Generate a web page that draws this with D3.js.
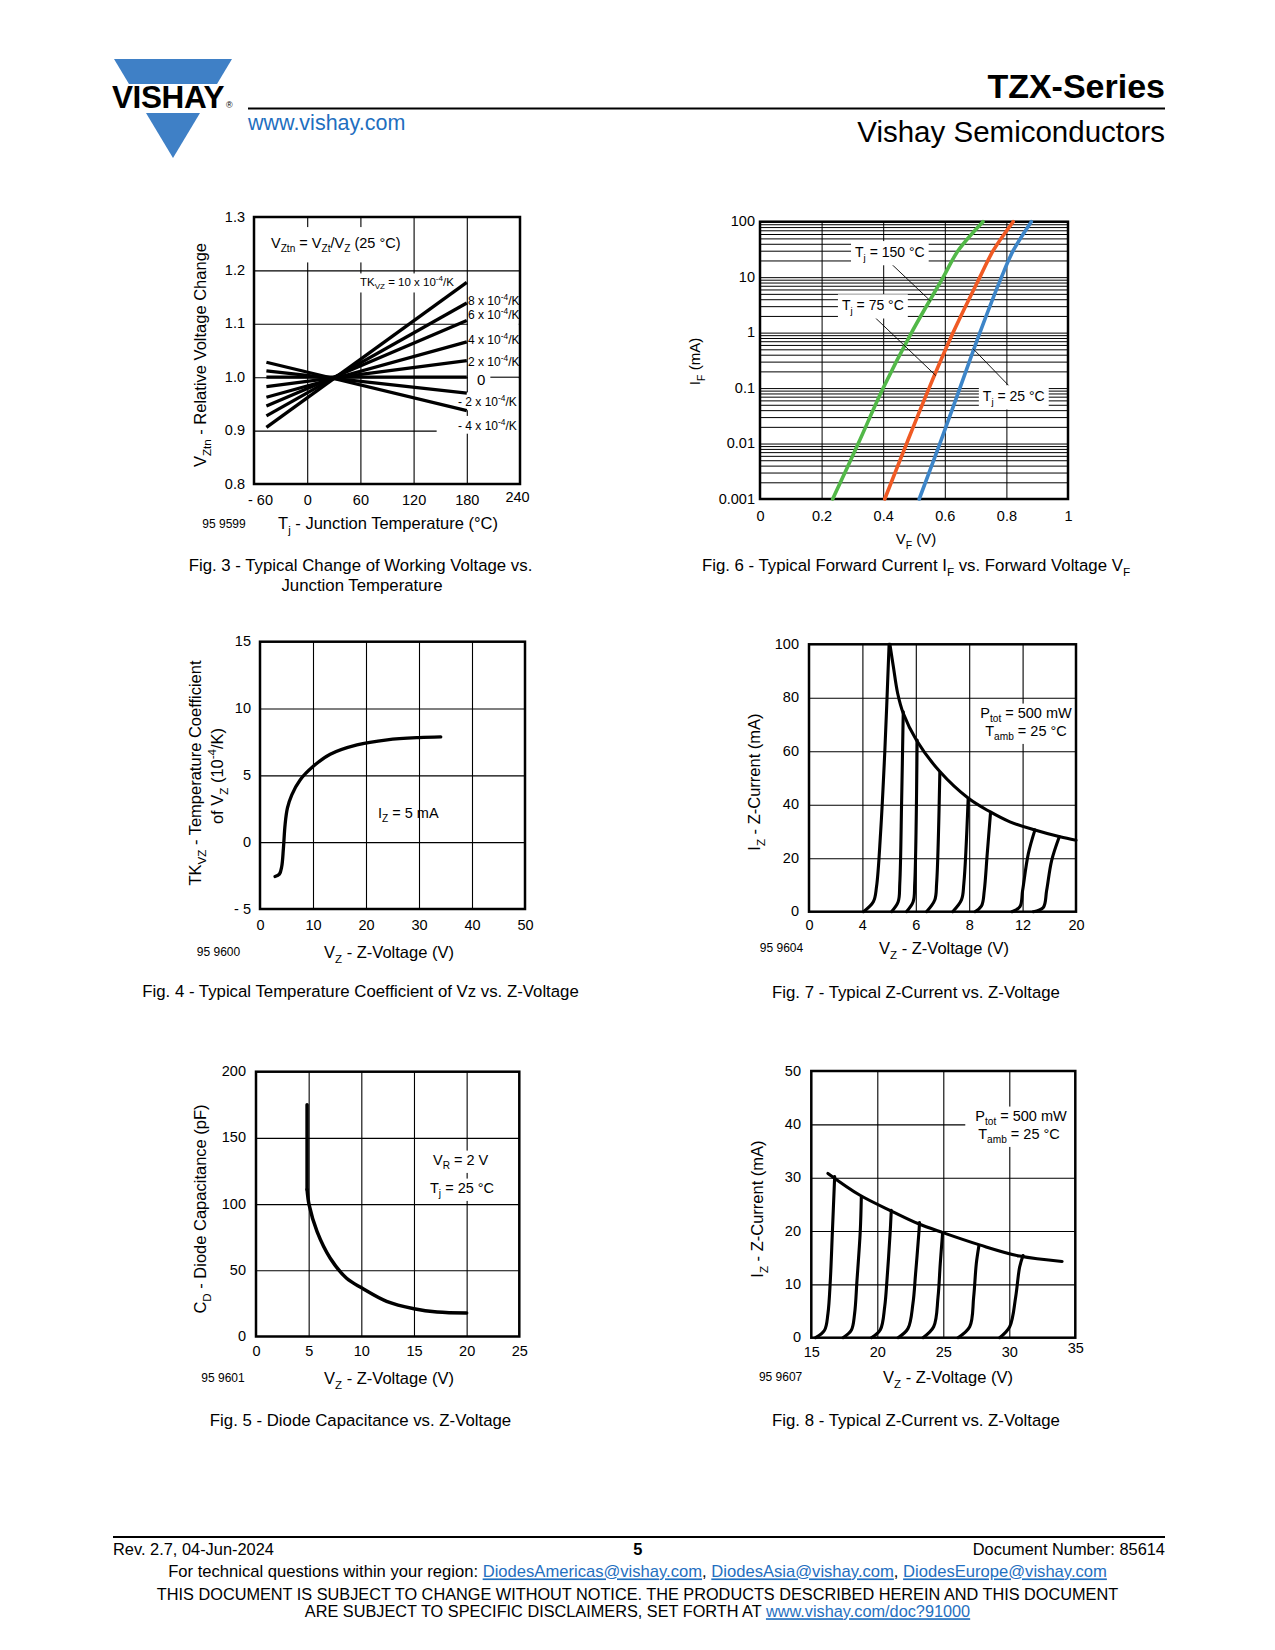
<!DOCTYPE html>
<html><head><meta charset="utf-8"><title>TZX-Series page 5</title>
<script src="https://cdn.jsdelivr.net/npm/d3@7/dist/d3.min.js"></script>
<style>
html,body{margin:0;padding:0;background:#fff}
svg{display:block}
svg text{font-family:"Liberation Sans",Arial,Helvetica,sans-serif}
</style></head><body>
<svg id="page" width="1275" height="1650" viewBox="0 0 1275 1650"></svg>
<script>
// ================= DATA =================
// Fig. 3 - relative voltage change vs junction temperature
const fig3TempTicks = [-60, 0, 60, 120, 180, 240];
const fig3VoltTicks = [0.8, 0.9, 1.0, 1.1, 1.2, 1.3];
const fig3Coeff = [10, 8, 6, 4, 2, 0, -2, -4];           // TKVZ in 10^-4/K
const fig3TempRange = [-46, 180];                          // start / end temperature of each line
const fig3StartV = [0.906, 0.9275, 0.946, 0.9625, 0.9825, 1.0, 1.012, 1.028];
const fig3EndV   = [1.1775, 1.139, 1.106, 1.066, 1.031, 1.0, 0.97, 0.9375];

// Fig. 6 - forward current vs forward voltage
const fig6VfTicks = [0, 0.2, 0.4, 0.6, 0.8, 1];
const fig6IfTicks = [0.001, 0.01, 0.1, 1, 10, 100];
const fig6Current = [0.001, 0.01, 0.1, 1, 10, 30, 100];
const fig6Vf150 = [0.236, 0.319, 0.400, 0.492, 0.595, 0.643, 0.724];
const fig6Vf75  = [0.405, 0.476, 0.549, 0.627, 0.714, 0.757, 0.822];
const fig6Vf25  = [0.517, 0.584, 0.649, 0.714, 0.784, 0.822, 0.881];
const fig6Temps = [150, 75, 25];
const fig6LabelV = [0.4216, 0.3665, 0.824];
const fig6LabelI = [28.8, 3.16, 0.0724];
const fig6LeaderFromV = [0.419, 0.374, 0.692];
const fig6LeaderFromI = [19, 1.86, 0.51];
const fig6LeaderToV = [0.554, 0.571, 0.811];
const fig6LeaderToI = [3.7, 0.168, 0.106];

// Fig. 4 - temperature coefficient vs Z-voltage
const fig4VzTicks = [0, 10, 20, 30, 40, 50];
const fig4TkTicks = [-5, 0, 5, 10, 15];
const fig4Vz = [2.84, 3.66, 4.1, 4.42, 4.73, 5.17, 6.0, 7.57, 10.0, 13.25, 18.3, 24, 30, 34.1];
const fig4Tk = [-2.57, -2.39, -1.82, -0.45, 1.3, 2.54, 3.54, 4.66, 5.66, 6.58, 7.28, 7.66, 7.83, 7.88];

// Fig. 7 - Z-current vs Z-voltage (low voltages)
const fig7VzTicks = [0, 4, 6, 8, 12, 20];
const fig7IzTicks = [0, 20, 40, 60, 80, 100];
const fig7EnvV = [5.03, 5.16, 5.32, 5.53, 6.02, 6.9, 7.97, 9.55, 11.05, 13.85, 17.6, 20];
const fig7EnvI = [100, 91.6, 81.7, 74.2, 64.2, 52.4, 42.4, 37.4, 33.6, 30.55, 28.0, 26.7];
const fig7BranchV = [
  [4.04, 4.41, 4.53, 4.68, 4.84, 5.0],
  [5.09, 5.34, 5.40, 5.47, 5.53],
  [5.65, 5.90, 5.96, 6.05],
  [6.40, 6.71, 6.78, 6.90],
  [7.38, 7.71, 7.80, 7.96],
  [8.43, 8.93, 9.13, 9.35, 9.6],
  [11.2, 11.8, 12.0, 12.85, 13.85],
  [13.6, 15.1, 15.6, 16.35, 17.5]
];
const fig7BranchI = [
  [0, 3.7, 9.4, 29.3, 60.1, 100],
  [0, 3.7, 10.6, 41.8, 74.8],
  [0, 3.7, 10.6, 64.2],
  [0, 4.4, 10.6, 52],
  [0, 4.4, 10.6, 42],
  [0, 2.25, 7.9, 21.6, 37.1],
  [0, 1.9, 7.9, 21.6, 30.6],
  [0, 1.6, 7.9, 19.1, 28.0]
];

// Fig. 5 - diode capacitance vs Z-voltage
const fig5VzTicks = [0, 5, 10, 15, 20, 25];
const fig5CdTicks = [0, 50, 100, 150, 200];
const fig5Vz = [4.85, 4.85, 5.05, 5.8, 7.05, 8.6, 10.06, 12.4, 15, 17.2, 20];
const fig5Cd = [175, 111, 99.2, 79.2, 59.1, 44, 36.6, 26.6, 21, 18.5, 17.8];

// Fig. 8 - Z-current vs Z-voltage (higher voltages)
const fig8VzTicks = [15, 20, 25, 30, 35];
const fig8IzTicks = [0, 10, 20, 30, 40, 50];
const fig8EnvV = [16.26, 18.66, 21.19, 23.08, 24.97, 27.75, 30.78, 34.0];
const fig8EnvI = [30.8, 26.75, 23.6, 21.4, 19.7, 17.4, 15.3, 14.3];
const fig8BranchV = [
  [15.33, 16.0, 16.26, 16.44, 16.6, 16.77],
  [17.4, 18.03, 18.28, 18.46, 18.71, 18.79],
  [19.55, 20.23, 20.56, 20.73, 20.98, 21.06],
  [21.57, 22.32, 22.7, 22.9, 23.16, 23.2],
  [23.46, 24.27, 24.6, 24.77, 24.95],
  [26.11, 27.0, 27.3, 27.5, 27.7],
  [29.27, 30.03, 30.48, 30.78, 31.04]
];
const fig8BranchI = [
  [0, 1.4, 4.5, 10.7, 20, 30.2],
  [0, 1.4, 4.5, 10.7, 20, 26.4],
  [0, 1.5, 5.8, 10.7, 20, 23.9],
  [0, 1.7, 6.4, 12, 20, 21.6],
  [0, 2.05, 7.6, 13.9, 19.7],
  [0, 2.05, 7.6, 13.9, 17.3],
  [0, 2.05, 7.6, 13.2, 15.4]
];

// ================= HELPERS =================
const svg = d3.select("#page");
const LINK = "#1f6fbf";
const BLUE = "#3f80c6";
const TICK = 14.5, TITLE = 16.5, CAP = 16.8;

function layers() {
  const g = svg.append("g");
  return { grid: g.append("g"), mask: g.append("g"), data: g.append("g"), mask2: g.append("g"), text: g.append("g") };
}
function rich(parent, x, y, parts, o = {}) {
  const size = o.size || 16;
  const g = parent.append("g").attr("transform", `translate(${x},${y})${o.rotate ? ` rotate(${o.rotate})` : ""}`);
  const t = g.append("text").attr("x", 0).attr("y", size * 0.35).attr("font-size", size)
    .attr("text-anchor", o.anchor || "start").attr("fill", o.fill || "#000")
    .style("white-space", "pre");
  if (o.weight) t.attr("font-weight", o.weight);
  let off = 0;
  for (const p of parts) {
    const [str, kind] = Array.isArray(p) ? p : [p, "n"];
    const target = kind === "sub" ? size * 0.3 : kind === "sup" ? -size * 0.4 : 0;
    const ts = t.append("tspan").attr("dy", target - off).text(str);
    if (kind === "sub" || kind === "sup") ts.attr("font-size", size * 0.7);
    if (kind === "link") ts.attr("fill", LINK).attr("text-decoration", "underline");
    off = target;
  }
  const b = t.node().getBBox();
  return { x: b.x + x, y: b.y + y, width: b.width, height: b.height };
}
function mask(layer, b, px = 3, py = 2) {
  layer.append("rect").attr("x", b.x - px).attr("y", b.y - py)
    .attr("width", b.width + 2 * px).attr("height", b.height + 2 * py).attr("fill", "#fff");
}
function ext(s) { const r = s.range(); return [r[0], r[r.length - 1]]; }
function grid(layer, x, y, xv, yv, w = 1.1) {
  const [X0, X1] = ext(x), [Y0, Y1] = ext(y);
  layer.append("g").attr("transform", `translate(0,${Y0})`)
    .call(d3.axisBottom(x).tickValues(xv).tickSize(-(Y0 - Y1)).tickFormat(""))
    .call(a => { a.select(".domain").remove(); a.selectAll("line").attr("stroke", "#000").attr("stroke-width", w); });
  layer.append("g").attr("transform", `translate(${X0},0)`)
    .call(d3.axisLeft(y).tickValues(yv).tickSize(-(X1 - X0)).tickFormat(""))
    .call(a => { a.select(".domain").remove(); a.selectAll("line").attr("stroke", "#000").attr("stroke-width", w); });
}
function frame(layer, x, y, w = 2.5) {
  const [X0, X1] = ext(x), [Y0, Y1] = ext(y);
  layer.append("rect").attr("x", X0).attr("y", Y1).attr("width", X1 - X0).attr("height", Y0 - Y1)
    .attr("fill", "none").attr("stroke", "#000").attr("stroke-width", w);
}
function xLabels(layer, x, ticks, fmt, yPos, size = TICK) {
  const a = layer.append("g").attr("transform", `translate(0,${yPos})`)
    .call(d3.axisBottom(x).tickValues(ticks).tickFormat(fmt).tickSize(0).tickPadding(0));
  a.select(".domain").remove();
  a.attr("font-size", size);
  a.selectAll("text").attr("y", 0).attr("dy", "0.35em").attr("fill", "#000");
  return a;
}
function yLabels(layer, y, ticks, fmt, xPos, size = TICK) {
  const a = layer.append("g").attr("transform", `translate(${xPos},0)`)
    .call(d3.axisLeft(y).tickValues(ticks).tickFormat(fmt).tickSize(0).tickPadding(0));
  a.select(".domain").remove();
  a.attr("font-size", size);
  a.selectAll("text").attr("x", 0).attr("dy", "0.28em").attr("fill", "#000");
  return a;
}
const neg = d => d < 0 ? "- " + Math.abs(d) : String(d);
function path(layer, x, y, pts, w, color = "#000", curve = d3.curveCatmullRom) {
  layer.append("path").datum(pts)
    .attr("d", d3.line().x(d => x(d[0])).y(d => y(d[1])).curve(curve))
    .attr("fill", "none").attr("stroke", color).attr("stroke-width", w)
    .attr("stroke-linejoin", "round").attr("stroke-linecap", "round");
}
const VZ = ["V", ["Z", "sub"], " - Z-Voltage (V)"];
const IZ = ["I", ["Z", "sub"], " - Z-Current (mA)"];

// ================= HEADER =================
svg.append("polygon").attr("points", "114,59 232,59 217,84 129,84").attr("fill", BLUE);
svg.append("polygon").attr("points", "146,113 200,113 173,158").attr("fill", BLUE);
svg.append("text").attr("x", 112).attr("y", 108).attr("font-size", 31.5).attr("font-weight", "bold")
  .attr("letter-spacing", -0.4).text("VISHAY");
svg.append("text").attr("x", 226).attr("y", 108).attr("font-size", 9).text("®");
svg.append("line").attr("x1", 248).attr("x2", 1165).attr("y1", 108.6).attr("y2", 108.6)
  .attr("stroke", "#000").attr("stroke-width", 2);
svg.append("text").attr("x", 248).attr("y", 130).attr("font-size", 21.5).attr("fill", LINK).text("www.vishay.com");
svg.append("text").attr("x", 1165).attr("y", 98).attr("font-size", 34).attr("font-weight", "bold")
  .attr("text-anchor", "end").text("TZX-Series");
svg.append("text").attr("x", 1165).attr("y", 142).attr("font-size", 29.5)
  .attr("text-anchor", "end").text("Vishay Semiconductors");

// ================= FIG. 3 =================
{
  const L = layers();
  const x = d3.scaleLinear([-60, 240], [254, 520]);
  const y = d3.scaleLinear([0.8, 1.3], [484, 217]);
  grid(L.grid, x, y, fig3TempTicks.slice(1, -1), fig3VoltTicks.slice(1, -1));
  frame(L.data, x, y);
  L.data.selectAll("line.tk").data(fig3Coeff).join("line").attr("class", "tk")
    .attr("x1", x(fig3TempRange[0])).attr("x2", x(fig3TempRange[1]))
    .attr("y1", (d, i) => y(fig3StartV[i])).attr("y2", (d, i) => y(fig3EndV[i]))
    .attr("stroke", "#000").attr("stroke-width", 3.3);
  yLabels(L.text, y, fig3VoltTicks, d3.format(".1f"), 245);
  const xa = xLabels(L.text, x, fig3TempTicks, neg, 499.5);
  xa.selectAll("text").filter(d => d === 240).attr("y", -3).attr("x", -3);
  xa.selectAll("text").filter(d => d === -60).attr("x", 6);

  const b1 = rich(L.text, 271, 243, ["V", ["Ztn", "sub"], " = V", ["Zt", "sub"], "/V", ["Z", "sub"], " (25 °C)"], { size: 14.5 });
  mask(L.mask, b1, 6, 8);
  const b2 = rich(L.text, 360, 282, ["TK", ["VZ", "sub"], " = 10 x 10", ["-4", "sup"], "/K"], { size: 11.5 });
  mask(L.mask, b2, 2, 1);
  // right-hand coefficient labels
  L.mask.append("rect").attr("x", x(180) + 1.2).attr("y", 294).attr("width", x(240) - x(180) - 2.5)
    .attr("height", 139).attr("fill", "#fff");
  const rightY = { 8: 301, 6: 315, 4: 340, 2: 361.5, 0: 379.4, "-2": 402, "-4": 425.5 };
  fig3Coeff.forEach(c => {
    if (c === 10) return;
    if (c === 0) {
      const b = rich(L.text, 477, rightY[c], ["0"], { size: 15 });
      L.data.append("line").attr("x1", b.x + b.width + 5).attr("x2", x(240)).attr("y1", y(1.0)).attr("y2", y(1.0))
        .attr("stroke", "#000").attr("stroke-width", 1.1);
    } else if (c > 0) {
      rich(L.text, 468, rightY[c], [c + " x 10", ["-4", "sup"], "/K"], { size: 12 });
    } else {
      const b = rich(L.text, 458, rightY[c], ["- " + Math.abs(c) + " x 10", ["-4", "sup"], "/K"], { size: 12 });
      mask(L.mask, b, 2, 1);
      if (c === -4) L.mask.append("rect").attr("x", x(146)).attr("y", b.y).attr("width", x(240) - x(146) - 1.5)
        .attr("height", y(0.9) + 2 - b.y).attr("fill", "#fff");
    }
  });
  rich(L.text, 224, 523.5, ["95 9599"], { size: 12, anchor: "middle" });
  rich(L.text, 388, 523.5, ["T", ["j", "sub"], " - Junction Temperature (°C)"], { size: TITLE, anchor: "middle" });
  rich(L.text, 200, 355, ["V", ["Ztn", "sub"], " - Relative Voltage Change"], { size: TITLE, anchor: "middle", rotate: -90 });
  rich(L.text, 360.5, 565.5, ["Fig. 3 - Typical Change of Working Voltage vs."], { size: CAP, anchor: "middle" });
  rich(L.text, 362, 585, ["Junction Temperature"], { size: CAP, anchor: "middle" });
}

// ================= FIG. 6 =================
{
  const L = layers();
  const x = d3.scaleLinear([0, 1], [760, 1068]);
  const y = d3.scaleLog([0.001, 100], [499, 221.7]);
  const minor = [];
  fig6IfTicks.slice(0, -1).forEach(d => d3.range(1, 10).forEach(k => minor.push(d * k)));
  minor.push(fig6IfTicks[fig6IfTicks.length - 1]);
  grid(L.grid, x, y, fig6VfTicks.slice(1, -1), minor, 1.0);
  frame(L.data, x, y);
  const series = [fig6Vf150, fig6Vf75, fig6Vf25];
  const colors = ["#52b848", "#f05a24", "#3d85c8"];
  series.forEach((s, i) => path(L.data, x, y, d3.zip(s, fig6Current), 3.6, colors[i]));
  fig6Temps.forEach((t, i) => {
    L.data.append("line").attr("x1", x(fig6LeaderFromV[i])).attr("y1", y(fig6LeaderFromI[i]))
      .attr("x2", x(fig6LeaderToV[i])).attr("y2", y(fig6LeaderToI[i]))
      .attr("stroke", "#000").attr("stroke-width", 0.9);
    const b = rich(L.text, x(fig6LabelV[i]), y(fig6LabelI[i]), ["T", ["j", "sub"], " = " + t + " °C"], { size: 14, anchor: "middle" });
    mask(L.mask2, b, 4, 2.5);
  });
  yLabels(L.text, y, fig6IfTicks, d => String(d), 755);
  xLabels(L.text, x, fig6VfTicks, d => String(d), 516);
  rich(L.text, 695, 361.5, ["I", ["F", "sub"], " (mA)"], { size: 15, anchor: "middle", rotate: -90 });
  rich(L.text, 916, 539, ["V", ["F", "sub"], " (V)"], { size: 15, anchor: "middle" });
  rich(L.text, 916, 565.5, ["Fig. 6 - Typical Forward Current I", ["F", "sub"], " vs. Forward Voltage V", ["F", "sub"]], { size: CAP, anchor: "middle" });
}

// ================= FIG. 4 =================
{
  const L = layers();
  const x = d3.scaleLinear([0, 50], [260, 525]);
  const y = d3.scaleLinear([-5, 15], [909, 641.7]);
  grid(L.grid, x, y, fig4VzTicks.slice(1, -1), fig4TkTicks.slice(1, -1));
  frame(L.data, x, y);
  path(L.data, x, y, d3.zip(fig4Vz, fig4Tk), 3.3);
  yLabels(L.text, y, fig4TkTicks, neg, 251);
  xLabels(L.text, x, fig4VzTicks, d => String(d), 925);
  rich(L.text, 378, 813, ["I", ["Z", "sub"], " = 5 mA"], { size: 14.5 });
  rich(L.text, 195, 773, ["TK", ["VZ", "sub"], " - Temperature Coefficient"], { size: TITLE, anchor: "middle", rotate: -90 });
  rich(L.text, 217, 776, ["of V", ["Z", "sub"], " (10", ["-4", "sup"], "/K)"], { size: TITLE, anchor: "middle", rotate: -90 });
  rich(L.text, 218.5, 952, ["95 9600"], { size: 12, anchor: "middle" });
  rich(L.text, 389, 952, VZ, { size: TITLE, anchor: "middle" });
  rich(L.text, 360.5, 991, ["Fig. 4 - Typical Temperature Coefficient of Vz vs. Z-Voltage"], { size: CAP, anchor: "middle" });
}

// ================= FIG. 7 =================
{
  const L = layers();
  const x = d3.scaleLinear(fig7VzTicks, fig7VzTicks.map((d, i) => 809 + i * 53.4));
  const y = d3.scaleLinear([0, 100], [911.7, 644.3]);
  grid(L.grid, x, y, fig7VzTicks.slice(1, -1), fig7IzTicks.slice(1, -1));
  frame(L.data, x, y);
  path(L.data, x, y, d3.zip(fig7EnvV, fig7EnvI), 3.1);
  fig7BranchV.forEach((v, i) => path(L.data, x, y, d3.zip(v, fig7BranchI[i]), 3.1));
  yLabels(L.text, y, fig7IzTicks, d => String(d), 799);
  xLabels(L.text, x, fig7VzTicks, d => String(d), 924.5);
  mask(L.mask, rich(L.text, 1026, 713, ["P", ["tot", "sub"], " = 500 mW"], { size: 14.5, anchor: "middle" }), 3, 1.5);
  mask(L.mask, rich(L.text, 1026, 731, ["T", ["amb", "sub"], " = 25 °C"], { size: 14.5, anchor: "middle" }), 3, 1.5);
  rich(L.text, 754, 782, IZ, { size: TITLE, anchor: "middle", rotate: -90 });
  rich(L.text, 781.5, 948, ["95 9604"], { size: 12, anchor: "middle" });
  rich(L.text, 944, 948, VZ, { size: TITLE, anchor: "middle" });
  rich(L.text, 916, 992, ["Fig. 7 - Typical Z-Current vs. Z-Voltage"], { size: CAP, anchor: "middle" });
}

// ================= FIG. 5 =================
{
  const L = layers();
  const x = d3.scaleLinear([0, 25], [256, 519.3]);
  const y = d3.scaleLinear([0, 200], [1336.5, 1071.7]);
  grid(L.grid, x, y, fig5VzTicks.slice(1, -1), fig5CdTicks.slice(1, -1));
  frame(L.data, x, y);
  const pts = d3.zip(fig5Vz, fig5Cd);
  path(L.data, x, y, pts.slice(0, 2), 3.5, "#000", d3.curveLinear);
  path(L.data, x, y, pts.slice(1), 3.5);
  yLabels(L.text, y, fig5CdTicks, d => String(d), 246);
  xLabels(L.text, x, fig5VzTicks, d => String(d), 1351);
  mask(L.mask, rich(L.text, 433, 1160, ["V", ["R", "sub"], " = 2 V"], { size: 14.5 }), 3, 1.5);
  mask(L.mask, rich(L.text, 430, 1188, ["T", ["j", "sub"], " = 25 °C"], { size: 14.5 }), 3, 1.5);
  rich(L.text, 200, 1209, ["C", ["D", "sub"], " - Diode Capacitance (pF)"], { size: TITLE, anchor: "middle", rotate: -90 });
  rich(L.text, 223, 1378, ["95 9601"], { size: 12, anchor: "middle" });
  rich(L.text, 389, 1378, VZ, { size: TITLE, anchor: "middle" });
  rich(L.text, 360.5, 1420, ["Fig. 5 - Diode Capacitance vs. Z-Voltage"], { size: CAP, anchor: "middle" });
}

// ================= FIG. 8 =================
{
  const L = layers();
  const x = d3.scaleLinear([15, 35], [811.3, 1075.3]);
  const y = d3.scaleLinear([0, 50], [1337.7, 1071]);
  grid(L.grid, x, y, fig8VzTicks.slice(1, -1), fig8IzTicks.slice(1, -1));
  frame(L.data, x, y);
  path(L.data, x, y, d3.zip(fig8EnvV, fig8EnvI), 3.1);
  fig8BranchV.forEach((v, i) => path(L.data, x, y, d3.zip(v, fig8BranchI[i]), 3.1));
  yLabels(L.text, y, fig8IzTicks, d => String(d), 801);
  xLabels(L.text, x, fig8VzTicks, d => String(d), 1352).selectAll("text").filter(d => d === 35).attr("y", -4);
  mask(L.mask, rich(L.text, 1021, 1116, ["P", ["tot", "sub"], " = 500 mW"], { size: 14.5, anchor: "middle" }), 10, 1.5);
  mask(L.mask, rich(L.text, 1019, 1134, ["T", ["amb", "sub"], " = 25 °C"], { size: 14.5, anchor: "middle" }), 3, 1.5);
  rich(L.text, 757, 1209, IZ, { size: TITLE, anchor: "middle", rotate: -90 });
  rich(L.text, 780.6, 1377, ["95 9607"], { size: 12, anchor: "middle" });
  rich(L.text, 948, 1377, VZ, { size: TITLE, anchor: "middle" });
  rich(L.text, 916, 1420, ["Fig. 8 - Typical Z-Current vs. Z-Voltage"], { size: CAP, anchor: "middle" });
}

// ================= FOOTER =================
svg.append("line").attr("x1", 113).attr("x2", 1165).attr("y1", 1537).attr("y2", 1537)
  .attr("stroke", "#000").attr("stroke-width", 2);
const FS = 16.4;
rich(svg, 113, 1549.5, ["Rev. 2.7, 04-Jun-2024"], { size: FS });
rich(svg, 637.7, 1549.5, ["5"], { size: FS, anchor: "middle", weight: "bold" });
rich(svg, 1165, 1549.5, ["Document Number: 85614"], { size: FS, anchor: "end" });
rich(svg, 637.5, 1571.6, ["For technical questions within your region: ", ["DiodesAmericas@vishay.com", "link"], ", ",
  ["DiodesAsia@vishay.com", "link"], ", ", ["DiodesEurope@vishay.com", "link"]], { size: 16.6, anchor: "middle" });
rich(svg, 637.5, 1594.5, ["THIS DOCUMENT IS SUBJECT TO CHANGE WITHOUT NOTICE. THE PRODUCTS DESCRIBED HEREIN AND THIS DOCUMENT"], { size: 16.3, anchor: "middle" });
rich(svg, 637.5, 1611.5, ["ARE SUBJECT TO SPECIFIC DISCLAIMERS, SET FORTH AT ", ["www.vishay.com/doc?91000", "link"]], { size: 16.3, anchor: "middle" });
</script>
</body></html>
